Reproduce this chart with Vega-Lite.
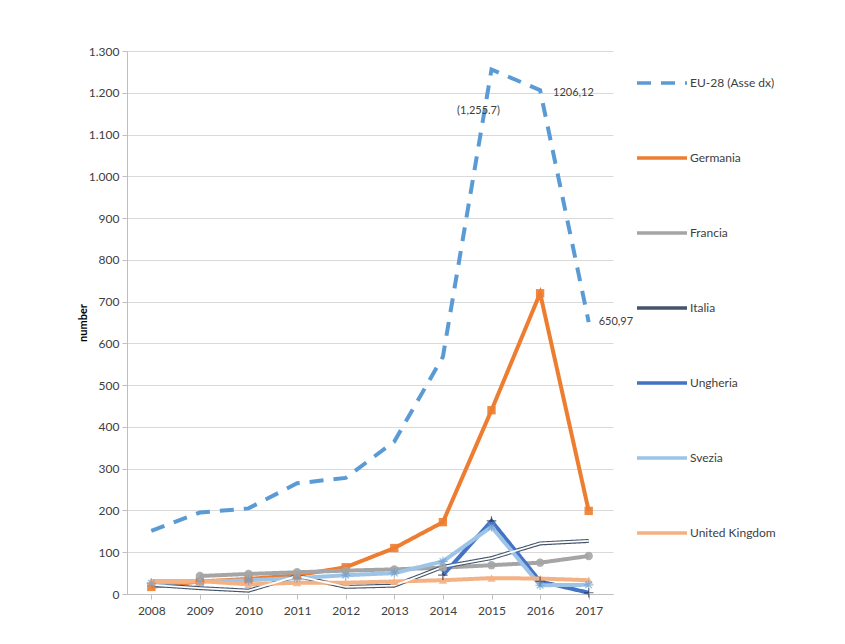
{
  "$schema": "https://vega.github.io/schema/vega-lite/v6.json",
  "width": 486,
  "height": 543,
  "autosize": {"type": "none"},
  "padding": {"left": 127, "top": 51, "right": 232, "bottom": 50},
  "background": "white",
  "config": {
    "locale": {"number": {"decimal": ",", "thousands": ".", "grouping": [3], "currency": ["€", ""]}},
    "view": {"stroke": null},
    "font": "Lato",
    "axis": {"labelFont": "Lato", "titleFont": "Lato", "labelColor": "#404040", "titleColor": "#000000"}
  },
  "datasets": {
    "main": [
      {"year": "2008", "series": "EU-28 (Asse dx)", "value": 151},
      {"year": "2009", "series": "EU-28 (Asse dx)", "value": 195},
      {"year": "2010", "series": "EU-28 (Asse dx)", "value": 205},
      {"year": "2011", "series": "EU-28 (Asse dx)", "value": 265},
      {"year": "2012", "series": "EU-28 (Asse dx)", "value": 278},
      {"year": "2013", "series": "EU-28 (Asse dx)", "value": 365},
      {"year": "2014", "series": "EU-28 (Asse dx)", "value": 568},
      {"year": "2015", "series": "EU-28 (Asse dx)", "value": 1255.7},
      {"year": "2016", "series": "EU-28 (Asse dx)", "value": 1206.12},
      {"year": "2017", "series": "EU-28 (Asse dx)", "value": 650.97},
      {"year": "2008", "series": "Germania", "value": 17},
      {"year": "2009", "series": "Germania", "value": 30},
      {"year": "2010", "series": "Germania", "value": 36},
      {"year": "2011", "series": "Germania", "value": 45},
      {"year": "2012", "series": "Germania", "value": 64},
      {"year": "2013", "series": "Germania", "value": 110},
      {"year": "2014", "series": "Germania", "value": 172},
      {"year": "2015", "series": "Germania", "value": 440},
      {"year": "2016", "series": "Germania", "value": 720},
      {"year": "2017", "series": "Germania", "value": 199},
      {"year": "2009", "series": "Francia", "value": 43},
      {"year": "2010", "series": "Francia", "value": 48},
      {"year": "2011", "series": "Francia", "value": 52},
      {"year": "2012", "series": "Francia", "value": 56},
      {"year": "2013", "series": "Francia", "value": 59},
      {"year": "2014", "series": "Francia", "value": 63},
      {"year": "2015", "series": "Francia", "value": 69},
      {"year": "2016", "series": "Francia", "value": 75},
      {"year": "2017", "series": "Francia", "value": 91},
      {"year": "2008", "series": "Italia", "value": 22},
      {"year": "2009", "series": "Italia", "value": 14},
      {"year": "2010", "series": "Italia", "value": 8},
      {"year": "2011", "series": "Italia", "value": 43},
      {"year": "2012", "series": "Italia", "value": 17},
      {"year": "2013", "series": "Italia", "value": 20},
      {"year": "2014", "series": "Italia", "value": 65},
      {"year": "2015", "series": "Italia", "value": 86},
      {"year": "2016", "series": "Italia", "value": 121},
      {"year": "2017", "series": "Italia", "value": 127},
      {"year": "2014", "series": "Ungheria", "value": 45},
      {"year": "2015", "series": "Ungheria", "value": 175},
      {"year": "2016", "series": "Ungheria", "value": 30},
      {"year": "2017", "series": "Ungheria", "value": 3},
      {"year": "2008", "series": "Svezia", "value": 26},
      {"year": "2009", "series": "Svezia", "value": 30},
      {"year": "2010", "series": "Svezia", "value": 33},
      {"year": "2011", "series": "Svezia", "value": 38},
      {"year": "2012", "series": "Svezia", "value": 45},
      {"year": "2013", "series": "Svezia", "value": 50},
      {"year": "2014", "series": "Svezia", "value": 78},
      {"year": "2015", "series": "Svezia", "value": 161},
      {"year": "2016", "series": "Svezia", "value": 21},
      {"year": "2017", "series": "Svezia", "value": 22},
      {"year": "2008", "series": "United Kingdom", "value": 31},
      {"year": "2009", "series": "United Kingdom", "value": 31},
      {"year": "2010", "series": "United Kingdom", "value": 23},
      {"year": "2011", "series": "United Kingdom", "value": 27},
      {"year": "2012", "series": "United Kingdom", "value": 27},
      {"year": "2013", "series": "United Kingdom", "value": 30},
      {"year": "2014", "series": "United Kingdom", "value": 33},
      {"year": "2015", "series": "United Kingdom", "value": 38},
      {"year": "2016", "series": "United Kingdom", "value": 37},
      {"year": "2017", "series": "United Kingdom", "value": 33}
    ]
  },
  "data": {"name": "main"},
  "encoding": {
    "x": {
      "field": "year", "type": "ordinal",
      "scale": {"type": "point", "padding": 0.5},
      "axis": {"title": null, "labelAngle": 0, "labelFontSize": 12, "labelPadding": 6, "domainColor": "#bfbfbf", "tickColor": "#bfbfbf", "tickSize": 5, "grid": false}
    },
    "y": {
      "field": "value", "type": "quantitative",
      "scale": {"domain": [0, 1300], "nice": false},
      "axis": {"title": "number", "titleFontSize": 11, "titleFontWeight": "bold", "titlePadding": 0,
        "values": [0,100,200,300,400,500,600,700,800,900,1000,1100,1200,1300],
        "format": ",d", "labelFontSize": 12, "labelPadding": 3,
        "domainColor": "#bfbfbf", "tickColor": "#bfbfbf", "tickSize": 5, "gridColor": "#d9d9d9"}
    }
  },
  "layer": [
    {
      "mark": {"type": "line", "strokeWidth": 4, "strokeCap": "butt"},
      "encoding": {
        "color": {
          "field": "series", "type": "nominal",
          "scale": {
            "domain": ["EU-28 (Asse dx)", "Germania", "Francia", "Italia", "Ungheria", "Svezia", "United Kingdom"],
            "range": ["#5B9BD5", "#ED7D31", "#A5A5A5", "#44546A", "#4472C4", "#9DC3E6", "#F4B183"]
          },
          "legend": {
            "title": null, "orient": "none", "legendX": 508, "legendY": 5,
            "symbolType": "stroke", "symbolSize": 2500, "symbolStrokeWidth": 3.5,
            "labelFontSize": 12, "labelColor": "#404040", "labelFont": "Lato",
            "rowPadding": 41, "labelOffset": 1
          }
        },
        "strokeDash": {
          "field": "series", "type": "nominal",
          "scale": {
            "domain": ["EU-28 (Asse dx)", "Germania", "Francia", "Italia", "Ungheria", "Svezia", "United Kingdom"],
            "range": [[14, 10], [1, 0], [1, 0], [1, 0], [1, 0], [1, 0], [1, 0]]
          },
          "legend": {
            "title": null, "orient": "none", "legendX": 508, "legendY": 5,
            "symbolType": "stroke", "symbolSize": 2500, "symbolStrokeWidth": 3.5,
            "labelFontSize": 12, "labelColor": "#404040", "labelFont": "Lato",
            "rowPadding": 41, "labelOffset": 1
          }
        }
      }
    },
    {
      "transform": [{"filter": "datum.series === 'Italia'"}],
      "mark": {"type": "line", "strokeWidth": 1.8, "color": "white"},
      "encoding": {}
    },
    {
      "transform": [{"filter": "datum.series === 'Germania' || datum.series === 'Francia' || datum.series === 'United Kingdom'"}],
      "mark": {"type": "point", "filled": true, "size": 70, "opacity": 0.9},
      "encoding": {
        "color": {"field": "series", "type": "nominal", "legend": null},
        "shape": {
          "field": "series", "type": "nominal",
          "scale": {"domain": ["Germania", "Francia", "United Kingdom"], "range": ["square", "circle", "triangle-up"]},
          "legend": null
        }
      }
    },
    {
      "transform": [{"filter": "datum.series === 'Ungheria'"}],
      "mark": {"type": "point", "filled": false, "size": 90, "strokeWidth": 1.2, "color": "#1f2d4d", "shape": "M-1,0H1M0,-1V1"},
      "encoding": {}
    },
    {
      "transform": [{"filter": "datum.series === 'Svezia'"}],
      "mark": {"type": "point", "filled": false, "size": 90, "strokeWidth": 1.2, "color": "#6f9fcf", "shape": "M-1,0H1M0,-1V1M-0.7,-0.7L0.7,0.7M-0.7,0.7L0.7,-0.7"},
      "encoding": {}
    },
    {
      "data": {"values": [{"year": "2015", "value": 1255.7, "label": "(1,255.7)"}]},
      "mark": {"type": "text", "fontSize": 11, "color": "#404040", "dx": -13, "dy": 41, "font": "Lato"},
      "encoding": {"text": {"field": "label"}}
    },
    {
      "data": {"values": [{"year": "2016", "value": 1206.12, "label": "1206,12"}]},
      "mark": {"type": "text", "fontSize": 11, "color": "#404040", "dx": 13, "dy": 3, "align": "left", "font": "Lato"},
      "encoding": {"text": {"field": "label"}}
    },
    {
      "data": {"values": [{"year": "2017", "value": 650.97, "label": "650,97"}]},
      "mark": {"type": "text", "fontSize": 11, "color": "#404040", "dx": 10, "dy": 0, "align": "left", "font": "Lato"},
      "encoding": {"text": {"field": "label"}}
    }
  ]
}
